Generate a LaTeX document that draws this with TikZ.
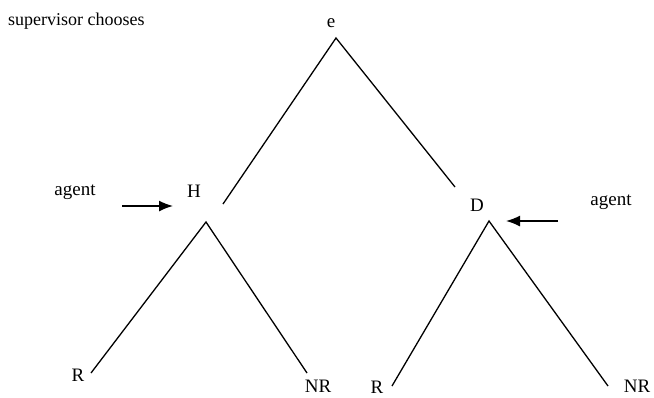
\documentclass[tikz,border=0pt]{standalone}
\usepackage{fontspec}
\setmainfont{Liberation Serif}
\usetikzlibrary{arrows.meta}
\begin{document}
\begin{tikzpicture}[x=1pt,y=-1pt,
  lbl/.style={inner sep=0pt, font=\fontsize{19}{21}\selectfont},
  small/.style={inner sep=0pt, font=\fontsize{18}{20}\selectfont},
  edge/.style={line width=1.3pt, black},
  pointer/.style={line width=1.5pt, -{Latex[length=14pt,width=11pt]}}]
\useasboundingbox (0,0) rectangle (654,397);
% labels
\node[small, anchor=west] (sup) at (8,21) {supervisor chooses};
\node[lbl] (e) at (331,23) {e};
\node[lbl] (H) at (194,191) {H};
\node[lbl] (D) at (477,205) {D};
\node[lbl] (agL) at (75,192) {agent};
\node[lbl] (agR) at (611,202) {agent};
\node[lbl] (R1) at (78,375) {R};
\node[lbl] (NR1) at (318,386) {NR};
\node[lbl] (R2) at (377,387) {R};
\node[lbl] (NR2) at (637,386) {NR};
% tree coordinates
\coordinate (top) at (336,38);
\coordinate (topL) at (223,204);
\coordinate (topR) at (455,187);
\coordinate (hL) at (206,222);
\coordinate (hLa) at (91,373);
\coordinate (hLb) at (307,373);
\coordinate (dR) at (489,221);
\coordinate (dRa) at (392,386);
\coordinate (dRb) at (608,386);
\coordinate (aLs) at (122,206);
\coordinate (aLe) at (173,206);
\coordinate (aRs) at (558,221);
\coordinate (aRe) at (506,221);
% edges
\draw[edge] (topL) -- (top) -- (topR);
\draw[edge] (hLa) -- (hL) -- (hLb);
\draw[edge] (dRa) -- (dR) -- (dRb);
% arrows
\draw[pointer] (aLs) -- (aLe);
\draw[pointer] (aRs) -- (aRe);
\end{tikzpicture}
\end{document}
